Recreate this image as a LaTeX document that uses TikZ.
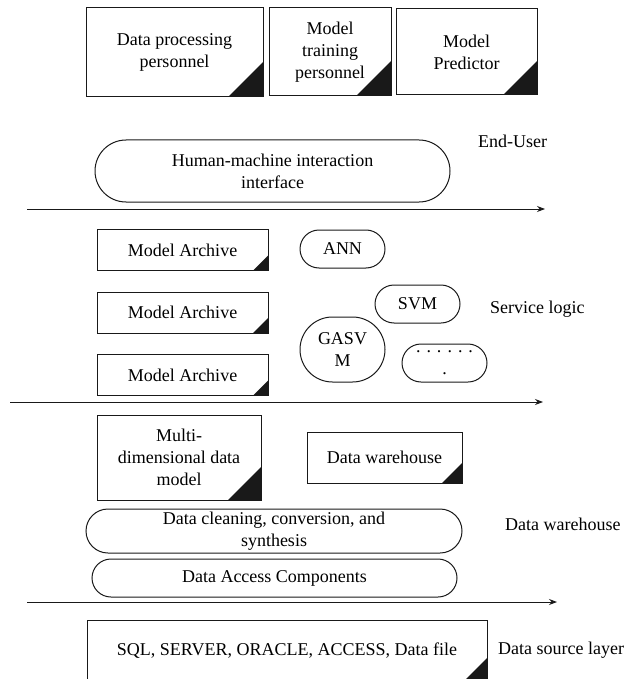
\documentclass[tikz,border=0pt]{standalone}
\usepackage{fontspec}
\setmainfont{Liberation Serif}
\usetikzlibrary{arrows.meta,shapes.misc}

\tikzset{
  txt/.style={font=\fontsize{18}{22}\selectfont, align=center, inner sep=0pt},
  base/.style={txt, draw=black!90, line width=1pt},
  cbox/.style={base, rectangle,
    path picture={\fill[black!90]
      ([xshift=-#1]path picture bounding box.south east)
      -- (path picture bounding box.south east)
      -- ([yshift=#1]path picture bounding box.south east) -- cycle;}},
  pill/.style={base, rounded rectangle},
  layerlabel/.style={txt, anchor=west},
  layerline/.style={line width=1pt, draw=black!90, -{Stealth[length=8pt,width=6pt]}}
}

\begin{document}
\begin{tikzpicture}[x=1pt,y=-1pt]
  \useasboundingbox (0,0) rectangle (624,679);
  \clip (0,0) rectangle (624,679);

  % users
  \node[cbox=35pt, minimum width=177pt, minimum height=89pt] (dpp) at (174.5,52.5) {Data processing\\personnel};
  \node[cbox=35pt, minimum width=122pt, minimum height=88pt] (mtp) at (330,52) {Model\\training\\personnel};
  \node[cbox=34pt, minimum width=141pt, minimum height=86pt] (mpr) at (466.5,52) {Model\\Predictor};

  % end-user layer
  \node[pill, minimum width=355pt, minimum height=62pt] (hmi) at (272.5,171) {Human-machine interaction\\interface};
  \node[layerlabel] (lend) at (478,141) {End-User};
  \coordinate (a1s) at (27,209);
  \coordinate (a1e) at (545,209);
  \draw[layerline] (a1s) -- (a1e);

  % service logic layer
  \node[cbox=15pt, minimum width=171pt, minimum height=41pt] (ma1) at (182.5,250) {Model Archive};
  \node[cbox=15pt, minimum width=171pt, minimum height=41pt] (ma2) at (182.5,312.5) {Model Archive};
  \node[cbox=15pt, minimum width=171pt, minimum height=41pt] (ma3) at (182.5,375) {Model Archive};
  \node[pill, minimum width=85pt, minimum height=38pt] (ann) at (342.5,249) {ANN};
  \node[pill, minimum width=85pt, minimum height=38pt] (svm) at (417.5,304) {SVM};
  \node[pill, minimum width=85pt, minimum height=65pt] (gasvm) at (342.5,349.5) {GASV\\M};
  \node[pill, minimum width=85pt, minimum height=38pt] (more) at (444.5,363) {. . . . . .\\.};
  \node[layerlabel] (lsvc) at (490,309) {Service logic};
  \coordinate (a2s) at (10,402);
  \coordinate (a2e) at (543,402);
  \draw[layerline] (a2s) -- (a2e);

  % data warehouse layer
  \node[cbox=33pt, minimum width=164pt, minimum height=85pt] (mdm) at (179,457.5) {Multi-\\dimensional data\\model};
  \node[cbox=20pt, minimum width=155pt, minimum height=51pt] (dwb) at (384.5,457.5) {Data warehouse};
  \node[pill, minimum width=376pt, minimum height=44pt] (dcc) at (274,531) {Data cleaning, conversion, and\\synthesis};
  \node[pill, minimum width=365pt, minimum height=38pt] (dac) at (274.5,578) {Data Access Components};
  \node[layerlabel] (ldw) at (505,524) {Data warehouse};
  \coordinate (a3s) at (27,602);
  \coordinate (a3e) at (557,602);
  \draw[layerline] (a3s) -- (a3e);

  % data source layer
  \node[cbox=23pt, minimum width=400pt, minimum height=61pt] (src) at (287,650.5) {SQL, SERVER, ORACLE, ACCESS, Data file};
  \node[layerlabel] (lsrc) at (498,650) {Data source layer};
\end{tikzpicture}
\end{document}
